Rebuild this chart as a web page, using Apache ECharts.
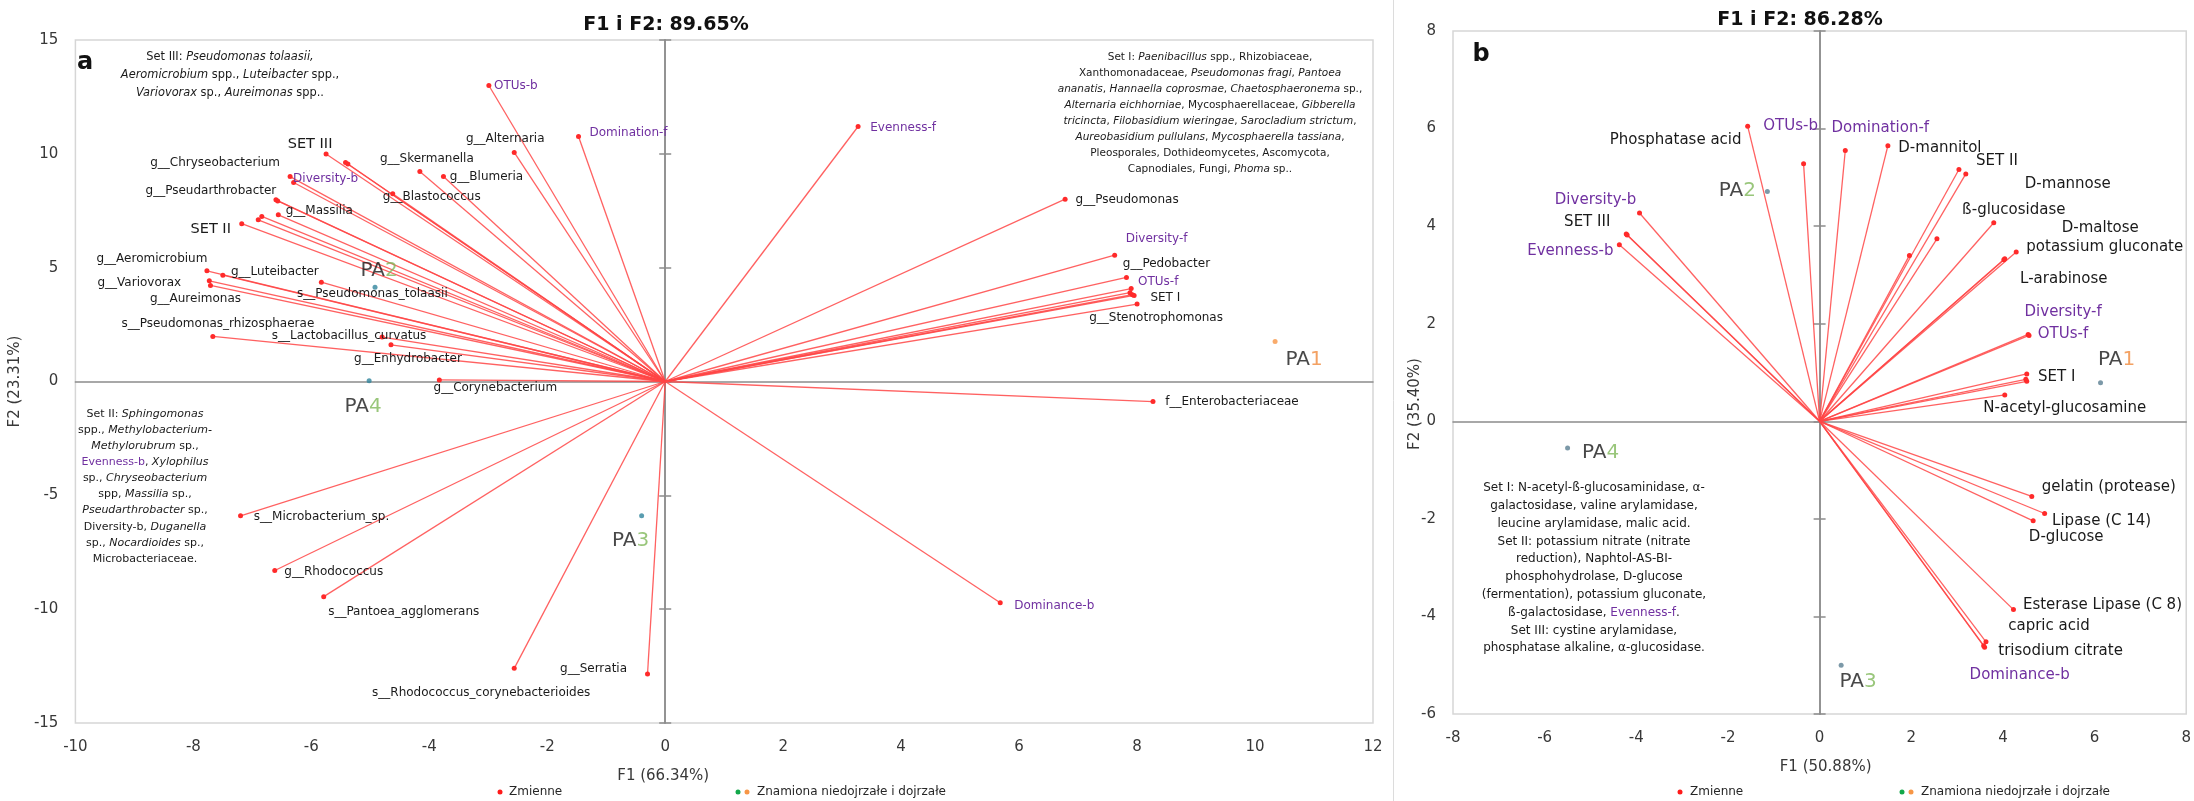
<!DOCTYPE html>
<html><head><meta charset="utf-8">
<script src="https://cdn.jsdelivr.net/npm/echarts@6/dist/echarts.min.js"></script>
<style>html,body{margin:0;padding:0;background:#fff}#c{width:2194px;height:801px}</style>
</head><body><div id="c"></div>
<script>
// ================= DATA =================
// Panel a
const aTicksX = [-10, -8, -6, -4, -2, 0, 2, 4, 6, 8, 10, 12];
const aTicksY = [-15, -10, -5, 0, 5, 10, 15];
const aVarNames = ['OTUs-b','Domination-f','g__Alternaria','SET III','','','g__Skermanella','g__Blumeria','g__Blastococcus',
  'g__Chryseobacterium','Diversity-b','g__Pseudarthrobacter','','g__Massilia','','','SET II','g__Aeromicrobium','g__Luteibacter',
  'g__Variovorax','g__Aureimonas','s__Pseudomonas_tolaasii','s__Pseudomonas_rhizosphaerae','s__Lactobacillus_curvatus',
  'g__Enhydrobacter','g__Corynebacterium','s__Microbacterium_sp.','g__Rhodococcus','s__Pantoea_agglomerans',
  's__Rhodococcus_corynebacterioides','g__Serratia','Evenness-f','g__Pseudomonas','Diversity-f','g__Pedobacter','OTUs-f',
  'SET I','','','g__Stenotrophomonas','f__Enterobacteriaceae','Dominance-b'];
const aVarF1 = [-2.99,-1.47,-2.56,-5.75,-5.42,-5.38,-4.16,-3.76,-4.62,
  -6.36,-6.30,-6.60,-6.57,-6.56,-6.84,-6.90,-7.18,-7.77,-7.50,
  -7.73,-7.71,-5.83,-7.67,-4.80,
  -4.65,-3.83,-7.20,-6.62,-5.79,
  -2.56,-0.30,3.27,6.78,7.62,7.82,7.90,
  7.92,7.95,7.88,8.00,8.27,5.68];
const aVarF2 = [13.0,10.76,10.06,9.99,9.62,9.55,9.22,9.00,8.25,
  9.00,8.74,7.98,7.93,7.32,7.25,7.10,6.93,4.86,4.67,
  4.42,4.22,4.36,1.98,1.95,
  1.61,0.07,-5.90,-8.30,-9.45,
  -12.60,-12.85,11.20,8.01,5.55,4.57,4.08,
  3.81,3.78,3.90,3.40,-0.88,-9.72];
const aObsNames = ['PA1','PA2','PA3','PA4'];
const aObsF1 = [10.34, -4.92, -0.40, -5.02];
const aObsF2 = [1.76, 4.14, -5.90, 0.03];

// Panel b
const bTicksX = [-8, -6, -4, -2, 0, 2, 4, 6, 8];
const bTicksY = [-6, -4, -2, 0, 2, 4, 6, 8];
const bVarNames = ['Phosphatase acid','OTUs-b','Domination-f','D-mannitol','SET II','D-mannose','','','ß-glucosidase',
  'D-maltose','potassium gluconate','L-arabinose','Diversity-f','OTUs-f','SET I','','','N-acetyl-glucosamine',
  'Diversity-b','SET III','','Evenness-b','gelatin (protease)','Lipase (C 14)','D-glucose','Esterase Lipase (C 8)',
  'capric acid','trisodium citrate','Dominance-b'];
const bVarF1 = [-1.57,-0.35,0.56,1.49,3.04,3.19,1.96,2.56,3.80,
  4.29,4.04,4.02,4.55,4.57,4.52,4.52,4.50,4.04,
  -3.93,-4.22,-4.20,-4.37,4.63,4.91,4.66,4.23,
  3.63,3.60,3.58];
const bVarF2 = [6.05,5.28,5.55,5.65,5.16,5.07,3.40,3.74,4.07,
  3.47,3.33,3.31,1.78,1.76,0.97,0.82,0.86,0.54,
  4.27,3.84,3.82,3.62,-1.54,-1.89,-2.04,-3.86,
  -4.52,-4.63,-4.60];
const bObsNames = ['PA1','PA2','PA3','PA4'];
const bObsF1 = [6.13, -1.14, 0.47, -5.50];
const bObsF2 = [0.79, 4.71, -5.00, -0.55];

// ================= LAYOUT (label offsets in px, kept apart from data) =================
const aVarLabelOffset = [[27,0],[50,-4],[-9,-14],[-16,-10],null,null,[7,-13],[43,0],[39,3],
  [-75,-14],[32,-4],[-65,-9],null,[41,-4],null,null,[-31,6],[-55,-12],[52,-3],
  [-70,2],[-15,13],[51,12],[5,-13],[-33,-1],
  [17,14],[56,8],[81,1],[59,1],[80,15],
  [-33,25],[-54,-5],[45,1],[62,1],[42,-16],[40,-14],[27,-7],
  [33,3],null,null,[19,14],[79,0],[54,3]];
const aObsLabelOffset = [[29,18],[4,-16],[-11,25],[-6,26]];
const bVarLabelOffset = [[-72,14],[-13,-38],[35,-22],[52,2],[38,-8],[102,10],null,null,[20,-13],
  [84,-24],[100,-12],[60,19],[35,-22],[34,-1],[30,3],null,null,[60,13],
  [-44,-13],[-39,-12],null,[-49,6],[77,-9],[57,8],[33,16],[89,-4],
  [63,-16],[76,4],[36,29]];
const bObsLabelOffset = [[16,-23],[-30,-1],[17,17],[33,5]];

// ================= TEXT BLOCKS =================
const setIIIa = [
  [['n','Set III: '],['i','Pseudomonas tolaasii,']],
  [['i','Aeromicrobium'],['n',' spp., '],['i','Luteibacter'],['n',' spp.,']],
  [['i','Variovorax'],['n',' sp., '],['i','Aureimonas'],['n',' spp..']]
];
const setIa = [
  [['n','Set I: '],['i','Paenibacillus'],['n',' spp., Rhizobiaceae,']],
  [['n','Xanthomonadaceae, '],['i','Pseudomonas fragi'],['n',', '],['i','Pantoea']],
  [['i','ananatis'],['n',', '],['i','Hannaella coprosmae'],['n',', '],['i','Chaetosphaeronema'],['n',' sp.,']],
  [['i','Alternaria eichhorniae'],['n',', Mycosphaerellaceae, '],['i','Gibberella']],
  [['i','tricincta'],['n',', '],['i','Filobasidium wieringae'],['n',', '],['i','Sarocladium strictum'],['n',',']],
  [['i','Aureobasidium pullulans'],['n',', '],['i','Mycosphaerella tassiana'],['n',',']],
  [['n','Pleosporales, Dothideomycetes, Ascomycota,']],
  [['n','Capnodiales, Fungi, '],['i','Phoma'],['n',' sp..']]
];
const setIIa = [
  [['n','Set II: '],['i','Sphingomonas']],
  [['n','spp., '],['i','Methylobacterium-']],
  [['i','Methylorubrum'],['n',' sp.,']],
  [['p','Evenness-b'],['n',', '],['i','Xylophilus']],
  [['n','sp., '],['i','Chryseobacterium']],
  [['n','spp, '],['i','Massilia'],['n',' sp.,']],
  [['i','Pseudarthrobacter'],['n',' sp.,']],
  [['n','Diversity-b, '],['i','Duganella']],
  [['n','sp., '],['i','Nocardioides'],['n',' sp.,']],
  [['n','Microbacteriaceae.']]
];
const setsB = [
  [['n','Set I: N-acetyl-ß-glucosaminidase, α-']],
  [['n','galactosidase, valine arylamidase,']],
  [['n','leucine arylamidase, malic acid.']],
  [['n','Set II: potassium nitrate (nitrate']],
  [['n','reduction), Naphtol-AS-BI-']],
  [['n','phosphohydrolase, D-glucose']],
  [['n','(fermentation), potassium gluconate,']],
  [['n','ß-galactosidase, '],['p','Evenness-f'],['n','.']],
  [['n','Set III: cystine arylamidase,']],
  [['n','phosphatase alkaline, α-glucosidase.']]
];

// ================= RENDER =================
const FONT = 'DejaVu Sans';
const PURPLE = '#7030a0', TXT = '#1a1a1a', AX = '#8c8c8c';
const isIndex = n => /^(OTUs|Diversity|Evenness|Domination|Dominance)-/.test(n);

function axisCommon(ticks) {
  return { type: 'value', min: ticks[0], max: ticks[ticks.length - 1], interval: ticks[1] - ticks[0],
    splitLine: { show: false } };
}
function mainX(gi, ticks, name, pad) {
  return Object.assign(axisCommon(ticks), { gridIndex: gi, position: 'bottom',
    axisLine: { show: false, onZero: false }, axisTick: { show: false },
    axisLabel: { fontSize: 15, color: '#383838', margin: 17, fontFamily: FONT },
    name, nameLocation: 'middle', nameGap: 46,
    nameTextStyle: { fontSize: 15, color: '#383838', fontFamily: FONT, padding: pad } });
}
function mainY(gi, ticks, name, gap) {
  return Object.assign(axisCommon(ticks), { gridIndex: gi, position: 'left',
    axisLine: { show: false, onZero: false }, axisTick: { show: false },
    axisLabel: { fontSize: 15, color: '#383838', margin: 17, fontFamily: FONT },
    name, nameLocation: 'middle', nameGap: gap, nameRotate: 90,
    nameTextStyle: { fontSize: 15, color: '#383838', fontFamily: FONT } });
}
function zeroX(gi, ticks, yIdx) {
  return Object.assign(axisCommon(ticks), { gridIndex: gi, position: 'bottom',
    axisLine: { show: true, onZero: true, onZeroAxisIndex: yIdx, lineStyle: { color: AX, width: 1.5 } },
    axisTick: { show: false }, axisLabel: { show: false } });
}
function zeroY(gi, ticks, xIdx, inside) {
  return Object.assign(axisCommon(ticks), { gridIndex: gi, position: 'left',
    axisLine: { show: true, onZero: true, onZeroAxisIndex: xIdx, lineStyle: { color: AX, width: 1.5 } },
    axisTick: { show: true, inside, length: 6, lineStyle: { color: AX, width: 1.5 } },
    axisLabel: { show: false } });
}

function panelSeries(xi, yi, names, f1, f2, offs, size, setSize, obsNames, o1, o2, oOffs, obsDot) {
  const lines = {
    type: 'lines', coordinateSystem: 'cartesian2d', xAxisIndex: xi, yAxisIndex: yi, silent: true, z: 3,
    lineStyle: { color: '#ff4545', width: 1.3, opacity: 0.85, curveness: 0 },
    data: names.map((n, i) => ({ coords: [[0, 0], [f1[i], f2[i]]] }))
  };
  const vars = {
    type: 'scatter', name: 'Zmienne', xAxisIndex: xi, yAxisIndex: yi, symbolSize: 5, z: 4, silent: true,
    itemStyle: { color: '#ff2a2a', opacity: 1 },
    data: names.map((n, i) => ({
      value: [f1[i], f2[i]], name: n,
      label: { show: n !== '', position: 'inside', offset: offs[i] || [0, 0], formatter: n,
        color: isIndex(n) ? PURPLE : TXT, fontFamily: FONT,
        fontSize: (n === 'SET II' || n === 'SET III') ? setSize : size }
    }))
  };
  const rich = {
    pa: { color: TXT, fontSize: 20, fontFamily: FONT },
    d1: { color: '#f08a3c', fontSize: 20, fontFamily: FONT },
    d2: { color: '#7fb85a', fontSize: 20, fontFamily: FONT }
  };
  const obs = {
    type: 'scatter', name: 'Znamiona niedojrzałe i dojrzałe', xAxisIndex: xi, yAxisIndex: yi, symbolSize: 5, z: 5, silent: true,
    data: obsNames.map((n, i) => ({
      value: [o1[i], o2[i]], name: n,
      itemStyle: { color: obsDot[i] },
      label: { show: true, position: 'inside', offset: oOffs[i], rich,
        formatter: () => '{pa|' + n.slice(0, 2) + '}{' + (n.slice(2) === '1' ? 'd1' : 'd2') + '|' + n.slice(2) + '}' }
    }))
  };
  return [lines, vars, obs];
}

function textLine(x, y, segs, size) {
  const base = { fontFamily: FONT, fontSize: size };
  return {
    type: 'text', x, y, silent: true, z: 100,
    style: {
      text: segs.map(s => '{' + s[0] + '|' + s[1] + '}').join(''),
      align: 'center', verticalAlign: 'middle', textAlign: 'center', textVerticalAlign: 'middle',
      fontFamily: FONT, fontSize: size, fill: '#1a1a1a',
      rich: {
        n: Object.assign({ fill: '#1a1a1a', color: '#1a1a1a' }, base),
        i: Object.assign({ fill: '#1a1a1a', color: '#1a1a1a', fontStyle: 'italic' }, base),
        p: Object.assign({ fill: PURPLE, color: PURPLE }, base)
      }
    }
  };
}
function block(cx, y0, dy, lines, size) {
  return lines.map((l, k) => textLine(cx, y0 + dy * k, l, size));
}
function plain(x, y, text, opts, rot) {
  return { type: 'text', x, y, rotation: rot || 0, silent: true, z: 100,
    style: Object.assign({ text, fontFamily: FONT, fontSize: 12, fill: '#262626',
      align: 'left', verticalAlign: 'middle', textAlign: 'left', textVerticalAlign: 'middle' }, opts || {}) };
}
function dot(x, y, color) {
  return { type: 'circle', silent: true, z: 100, shape: { cx: x, cy: y, r: 2.5 }, style: { fill: color } };
}

const chart = echarts.init(document.getElementById('c'), null, { renderer: 'canvas', width: 2194, height: 801 });

const CENTER = { align: 'center', textAlign: 'center' };
const graphics = [].concat(
  [{ type: 'line', silent: true, z: 0, shape: { x1: 1393.5, y1: 0, x2: 1393.5, y2: 801 }, style: { stroke: '#dcdcdc', lineWidth: 1 } }],
  [plain(666, 25, 'F1 i F2: 89.65%', Object.assign({ fontSize: 19, fontWeight: 'bold', fill: '#111' }, CENTER))],
  [plain(1800, 20, 'F1 i F2: 86.28%', Object.assign({ fontSize: 19, fontWeight: 'bold', fill: '#111' }, CENTER))],
  [plain(85, 63, 'a', Object.assign({ fontSize: 24, fontWeight: 'bold', fill: '#111' }, CENTER))],
  [plain(1481, 55, 'b', Object.assign({ fontSize: 24, fontWeight: 'bold', fill: '#111' }, CENTER))],
  [plain(1415, 404, 'F2 (35.40%)', Object.assign({ fontSize: 15, fill: '#383838' }, CENTER), Math.PI / 2)],
  block(230, 57, 18, setIIIa, 11.4),
  block(1210, 57, 16.1, setIa, 10.5),
  block(145, 414, 16.1, setIIa, 11),
  block(1594, 488, 17.8, setsB, 12),
  [dot(500, 792, '#ff1a1a'), plain(509, 792, 'Zmienne'),
   dot(738, 792, '#12a84a'), dot(747, 792, '#f79646'), plain(757, 792, 'Znamiona niedojrzałe i dojrzałe'),
   dot(1680, 792, '#ff1a1a'), plain(1690, 792, 'Zmienne'),
   dot(1902, 792, '#12a84a'), dot(1911, 792, '#f79646'), plain(1921, 792, 'Znamiona niedojrzałe i dojrzałe')]
);

const yB = mainY(1, bTicksY, '', 30);
delete yB.name;

chart.setOption({
  animation: false,
  backgroundColor: '#fff',
  grid: [
    { left: 66, top: 40, width: 1307, height: 683, show: true, borderColor: '#d6d6d6', borderWidth: 1.5 },
    { left: 1453, top: 31, width: 739, height: 683, show: true, borderColor: '#d6d6d6', borderWidth: 1.5 }
  ],
  xAxis: [
    mainX(0, aTicksX, 'F1 (66.34%)', [0, 122, 0, 0]),
    zeroX(0, aTicksX, 0),
    mainX(1, bTicksX, 'F1 (50.88%)', [0, 0, 0, 12]),
    zeroX(1, bTicksX, 3)
  ],
  yAxis: [
    mainY(0, aTicksY, 'F2 (23.31%)', 43),
    zeroY(0, aTicksY, 0, false),
    zeroY(0, aTicksY, 0, true),
    yB,
    zeroY(1, bTicksY, 2, false),
    zeroY(1, bTicksY, 2, true)
  ],
  series: [].concat(
    panelSeries(0, 0, aVarNames, aVarF1, aVarF2, aVarLabelOffset, 12, 14.5,
      aObsNames, aObsF1, aObsF2, aObsLabelOffset, ['#f79646', '#31859c', '#31859c', '#31859c']),
    panelSeries(2, 3, bVarNames, bVarF1, bVarF2, bVarLabelOffset, 15, 15,
      bObsNames, bObsF1, bObsF2, bObsLabelOffset, ['#5b7f92', '#5b7f92', '#5b7f92', '#5b7f92'])
  ),
  graphic: graphics
});
</script></body></html>
